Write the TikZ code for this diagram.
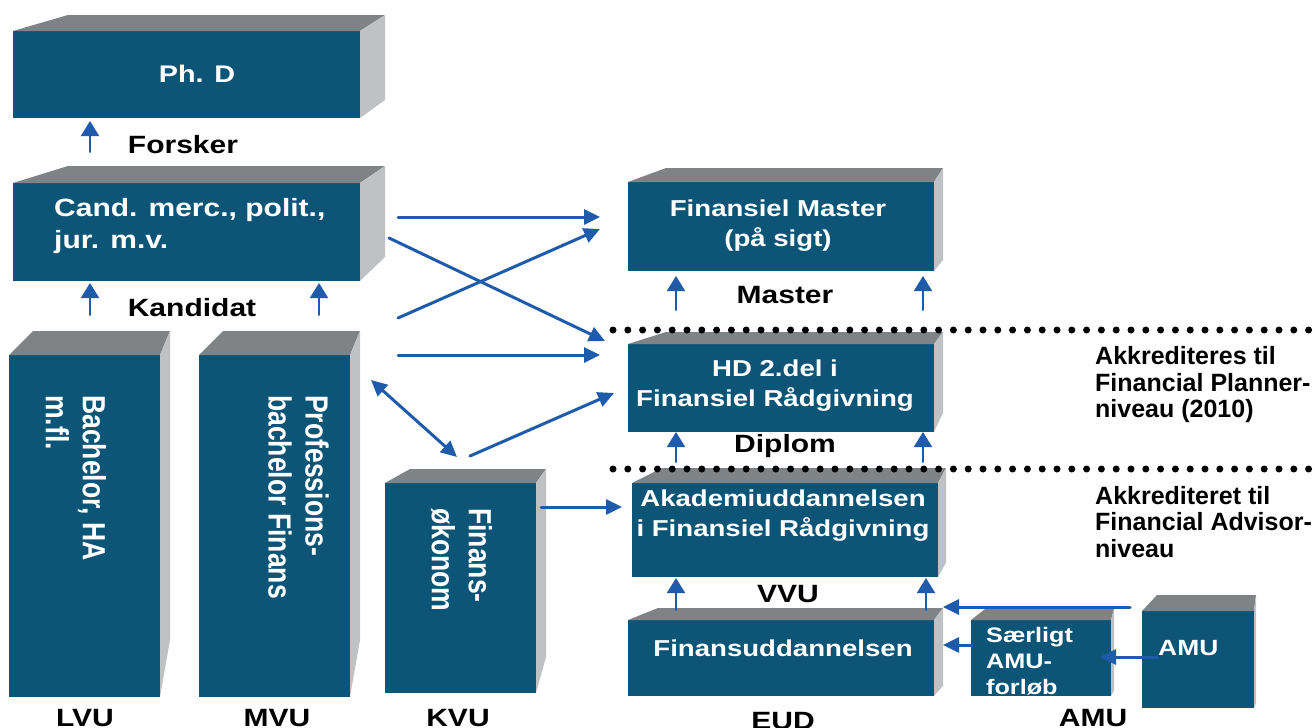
\documentclass[tikz,border=0pt]{standalone}
\usepackage{fontspec}
\usetikzlibrary{calc, arrows.meta}

\newfontfamily\boxfont[FakeStretch=1.2]{Liberation Sans}
\newfontfamily\sidefont[FakeStretch=0.83]{Liberation Sans}
\newfontfamily\notefont{Liberation Sans}

\definecolor{boxblue}{RGB}{13,85,119}
\definecolor{boxtop}{RGB}{127,131,134}
\definecolor{boxside}{RGB}{192,193,195}
\definecolor{arrowblue}{RGB}{31,91,171}

\tikzset{
  boxfront/.style={fill=boxblue, inner sep=0pt, outer sep=0pt},
  topface/.style={fill=boxtop},
  sideface/.style={fill=boxside},
  boxtxt/.style={text=white, inner sep=0pt, align=center, font=\boxfont\fontsize{23}{30}\selectfont\bfseries},
  smalltxt/.style={text=white, inner sep=0pt, align=left, font=\boxfont\fontsize{21}{26}\selectfont\bfseries},
  sidetxt/.style={text=white, inner sep=0pt, align=left, rotate=-90, anchor=west, font=\sidefont\fontsize{32}{37}\selectfont\bfseries},
  lbl/.style={inner sep=0pt, font=\boxfont\fontsize{25}{30}\selectfont\bfseries},
  note/.style={inner sep=0pt, align=left, anchor=west, font=\notefont\fontsize{25}{26.5}\selectfont\bfseries},
  link/.style={draw=arrowblue, line width=3pt, -{Triangle[length=16pt,width=15pt]}},
  uplink/.style={draw=arrowblue, line width=2pt, -{Triangle[length=15pt,width=18pt]}},
  dots/.style={line width=7pt, line cap=round, dash pattern=on 0pt off 14.8pt},
}

% top and right face of a box: name, left depth, right depth, rise, drop of back edge
\newcommand{\boxfaces}[5]{%
  \fill[topface] (#1.north west) -- ++(#2,-#4) -- ($(#1.north east)+(#3,-#4)$) -- (#1.north east) -- cycle;
  \fill[sideface] (#1.north east) -- ++(#3,-#4) -- ($(#1.south east)+(#3,-#5)$) -- (#1.south east) -- cycle;
}

\begin{document}
\begin{tikzpicture}[x=1pt, y=-1pt, line cap=round]
\useasboundingbox (0,0) rectangle (1315,728);

% Boxes, left column
\node[boxfront, minimum width=347pt, minimum height=87pt] (phd) at (186.5,74.5) {};
\boxfaces{phd}{55}{25}{16}{18}
\node[boxfront, minimum width=347pt, minimum height=98pt] (cand) at (186.5,232) {};
\boxfaces{cand}{55}{25}{17}{24}
\node[boxfront, minimum width=151pt, minimum height=342pt] (bach) at (84.5,526) {};
\boxfaces{bach}{24}{10}{24}{57}
\node[boxfront, minimum width=151pt, minimum height=342pt] (prof) at (274.5,526) {};
\boxfaces{prof}{24}{10}{24}{57}
\node[boxfront, minimum width=151pt, minimum height=210pt] (fok) at (460.5,588) {};
\boxfaces{fok}{25}{10}{14}{36}

% Boxes, right column
\node[boxfront, minimum width=306pt, minimum height=89pt] (master) at (781,226.5) {};
\boxfaces{master}{38}{9}{14}{11}
\node[boxfront, minimum width=306pt, minimum height=88pt] (hd) at (781,388) {};
\boxfaces{hd}{38}{9}{12}{19}
\node[boxfront, minimum width=306pt, minimum height=94pt] (akad) at (785,530) {};
\boxfaces{akad}{30}{8}{15}{14}
\node[boxfront, minimum width=306pt, minimum height=76pt] (fud) at (781,658) {};
\boxfaces{fud}{30}{9}{12}{10}
\node[boxfront, minimum width=140pt, minimum height=76pt] (saer) at (1041,658) {};
\boxfaces{saer}{14}{3}{11}{5}
\node[boxfront, minimum width=112pt, minimum height=97pt] (amu) at (1198,659.5) {};
\boxfaces{amu}{15}{2}{16}{5}

% Box texts
\node[boxtxt, font=\boxfont\fontsize{24}{30}\selectfont\bfseries] (phdtxt) at (197,74) {Ph. D};
\node[boxtxt, font=\boxfont\fontsize{25}{32}\selectfont\bfseries, align=left, anchor=west] (candtxt) at (54,226) {Cand. merc., polit.,\\jur. m.v.};
\node[sidetxt] (bachtxt) at (76,395) {Bachelor, HA\\m.fl.};
\node[sidetxt] (proftxt) at (298.5,395) {Professions-\\bachelor Finans};
\node[sidetxt] (foktxt) at (461.5,508) {Finans-\\økonom};
\node[boxtxt] (mastertxt) at (778,226) {Finansiel Master\\(på sigt)};
\node[boxtxt] (hdtxt) at (775,386) {HD 2.del i\\Finansiel Rådgivning};
\node[boxtxt] (akadtxt) at (783,516) {Akademiuddannelsen\\i Finansiel Rådgivning};
\node[boxtxt] (fudtxt) at (783,648) {Finansuddannelsen};
\node[smalltxt, anchor=west] (saertxt) at (986,661) {Særligt\\AMU-\\forløb};
\node[smalltxt, font=\boxfont\fontsize{22}{26}\selectfont\bfseries, anchor=west] (amutxt) at (1158,648) {AMU};

% Level labels
\node[lbl] (forsker) at (183,145) {Forsker};
\node[lbl] (kandidat) at (192,308) {Kandidat};
\node[lbl] (masterlbl) at (785,295) {Master};
\node[lbl] (diplom) at (785,446) {Diplom};
\node[lbl] (vvu) at (788,594) {VVU};
\node[lbl] (lvu) at (85,718) {LVU};
\node[lbl] (mvu) at (277,718) {MVU};
\node[lbl] (kvu) at (458,718) {KVU};
\node[lbl] (eud) at (783,721) {EUD};
\node[lbl] (amulbl) at (1093,718) {AMU};

% Notes
\node[note] (planner) at (1095,385) {Akkrediteres til\\Financial Planner-\\niveau (2010)};
\node[note] (advisor) at (1095,522) {Akkrediteret til\\Financial Advisor-\\niveau};

% Dotted levels
\coordinate (lineA) at (613,330);
\coordinate (lineAend) at (1315,330);
\coordinate (lineB) at (613,469);
\coordinate (lineBend) at (1315,469);
\draw[dots] (lineA) -- (lineAend);
\draw[dots] (lineB) -- (lineBend);

% Coordinates for the arrows
\coordinate (candR) at (398,217);
\coordinate (masterL) at (600,217);
\coordinate (candX) at (389,238);
\coordinate (hdX) at (605,341);
\coordinate (profX) at (398,318);
\coordinate (masterX) at (600,229);
\coordinate (profR) at (398,355);
\coordinate (hdL) at (600,355);
\coordinate (profD) at (371,380);
\coordinate (fokU) at (457,457);
\coordinate (fokR) at (470,456);
\coordinate (hdD) at (614,393);
\coordinate (fokE) at (541,507);
\coordinate (akadL) at (622,507);
\coordinate (amuTop) at (1130,607);
\coordinate (fudTop) at (943,607);
\coordinate (saerL) at (972,645);
\coordinate (fudR) at (943,645);
\coordinate (amuL) at (1157,657);
\coordinate (saerR) at (1100,657);

% Arrows
\draw[link] (candR) -- (masterL);
\draw[link] (candX) -- (hdX);
\draw[link] (profX) -- (masterX);
\draw[link] (profR) -- (hdL);
\draw[link, {Triangle[length=16pt,width=15pt]}-{Triangle[length=16pt,width=15pt]}] (profD) -- (fokU);
\draw[link] (fokR) -- (hdD);
\draw[link] (fokE) -- (akadL);
\draw[link] (amuTop) -- (fudTop);
\draw[link] (saerL) -- (fudR);
\draw[link] (amuL) -- (saerR);

% Small up arrows
\draw[uplink] ($(cand.north west)+(77,-31)$) -- ($(phd.south west)+(77,3)$);
\draw[uplink] ($(bach.north west)+(81,-40)$) -- ($(cand.south west)+(77,2)$);
\draw[uplink] ($(prof.north west)+(120,-40)$) -- ($(cand.south west)+(306,2)$);
\draw[uplink] ($(hd.north west)+(48,-34)$) -- ($(master.south west)+(48,5)$);
\draw[uplink] ($(hd.north west)+(295,-34)$) -- ($(master.south west)+(295,5)$);
\draw[uplink] ($(akad.north west)+(44,-21)$) -- ($(hd.south west)+(48,0)$);
\draw[uplink] ($(akad.north west)+(291,-21)$) -- ($(hd.south west)+(295,0)$);
\draw[uplink] ($(fud.north west)+(48,-10)$) -- ($(akad.south west)+(44,1)$);
\draw[uplink] ($(fud.north west)+(298,-10)$) -- ($(akad.south west)+(294,1)$);

\end{tikzpicture}
\end{document}
